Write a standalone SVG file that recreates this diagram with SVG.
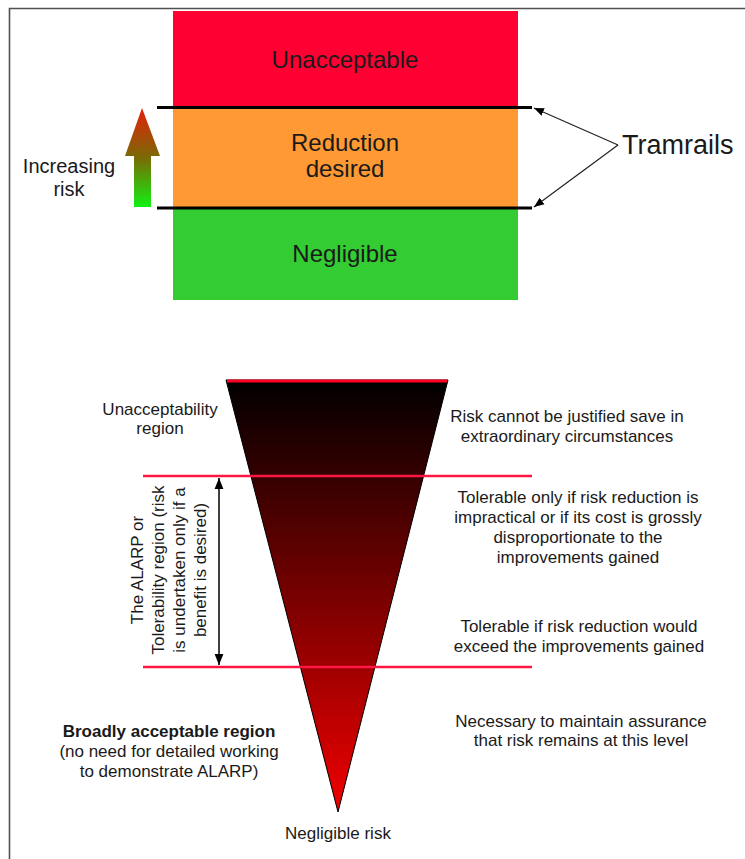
<svg xmlns="http://www.w3.org/2000/svg" width="745" height="859" viewBox="0 0 745 859">
<style>
text{font-family:"Liberation Sans",Arial,sans-serif;fill:#1a1a1a}
.big{font-size:24px;text-anchor:middle}
.mid{font-size:17px;text-anchor:middle}
.rail{stroke:#000;stroke-width:3;fill:none}
.pink{stroke:#ff1744;stroke-width:2.5;fill:none}
.thin{stroke:#222;stroke-width:1.2;fill:none}
</style>
<defs>
<linearGradient id="gArrow" x1="0" y1="0" x2="0" y2="1">
<stop offset="0" stop-color="#e5200a"/>
<stop offset="0.5" stop-color="#7a6a05"/>
<stop offset="1" stop-color="#12f012"/>
</linearGradient>
<linearGradient id="gTri" x1="0" y1="0" x2="0" y2="1">
<stop offset="0" stop-color="#000000"/>
<stop offset="1" stop-color="#f00000"/>
</linearGradient>
<marker id="ah" viewBox="0 0 10 10" refX="10" refY="5" markerWidth="10" markerHeight="10" markerUnits="userSpaceOnUse" orient="auto">
<path d="M0,1 L10,5 L0,9 Z" fill="#000"/>
</marker>
<marker id="ah2" viewBox="0 0 10 10" refX="10" refY="5" markerWidth="11" markerHeight="11" markerUnits="userSpaceOnUse" orient="auto-start-reverse">
<path d="M0,1 L10,5 L0,9 Z" fill="#000"/>
</marker>
</defs>
<rect width="745" height="859" fill="#fff"/>
<path d="M9.5,859 V8.5 H745" fill="none" stroke="#505050" stroke-width="1.6"/>

<g id="band-unacceptable">
<rect x="173" y="11" width="345" height="97" fill="#ff0033"/>
<text class="big" x="345" y="68">Unacceptable</text>
</g>
<g id="band-reduction">
<rect x="173" y="108" width="345" height="100" fill="#ff9933"/>
<text class="big" x="345" y="151">Reduction</text>
<text class="big" x="345" y="177">desired</text>
</g>
<g id="band-negligible">
<rect x="173" y="208" width="345" height="92" fill="#33cc33"/>
<text class="big" x="345" y="262">Negligible</text>
</g>

<g id="increasing-risk">
<path d="M142,108 L160,156 L151,156 L151,207 L134,207 L134,156 L125,156 Z" fill="url(#gArrow)"/>
<text x="69" y="173" style="font-size:20px;text-anchor:middle">Increasing</text>
<text x="69" y="196" style="font-size:20px;text-anchor:middle">risk</text>
</g>

<g id="tramrails">
<text x="622" y="154" style="font-size:27px">Tramrails</text>
</g>

<g id="triangle">
<path d="M226,380 L448,380 L338,812 Z" fill="url(#gTri)" stroke="#000" stroke-width="1"/>
<line x1="227" y1="381" x2="447" y2="381" stroke="#ff0022" stroke-width="3"/>
</g>

<g id="label-unacceptability">
<text class="mid" x="160" y="415">Unacceptability</text>
<text class="mid" x="160" y="434">region</text>
</g>
<g id="label-alarp">
<g transform="translate(0,570) rotate(-90)" style="font-size:17px">
<text x="0" y="143" text-anchor="middle">The ALARP or</text>
<text x="0" y="164" text-anchor="middle">Tolerability region (risk</text>
<text x="0" y="185" text-anchor="middle">is undertaken only if a</text>
<text x="0" y="206" text-anchor="middle">benefit is desired)</text>
</g>
</g>
<g id="label-broadly">
<text class="mid" x="169" y="737" style="font-weight:bold">Broadly acceptable region</text>
<text class="mid" x="169" y="757">(no need for detailed working</text>
<text class="mid" x="169" y="777">to demonstrate ALARP)</text>
</g>
<g id="label-negligible-risk">
<text class="mid" x="338" y="839">Negligible risk</text>
</g>
<g id="desc-1">
<text class="mid" x="567" y="422">Risk cannot be justified save in</text>
<text class="mid" x="567" y="442">extraordinary circumstances</text>
</g>
<g id="desc-2">
<text class="mid" x="578" y="503">Tolerable only if risk reduction is</text>
<text class="mid" x="578" y="523">impractical or if its cost is grossly</text>
<text class="mid" x="578" y="543">disproportionate to the</text>
<text class="mid" x="578" y="563">improvements gained</text>
</g>
<g id="desc-3">
<text class="mid" x="579" y="632">Tolerable if risk reduction would</text>
<text class="mid" x="579" y="652">exceed the improvements gained</text>
</g>
<g id="desc-4">
<text class="mid" x="581" y="727">Necessary to maintain assurance</text>
<text class="mid" x="581" y="746">that risk remains at this level</text>
</g>

<g id="connectors">
<line class="rail" x1="157" y1="107.5" x2="532" y2="107.5"/>
<line class="rail" x1="157" y1="208" x2="532" y2="208"/>
<line class="thin" x1="618" y1="145" x2="534" y2="108" marker-end="url(#ah)"/>
<line class="thin" x1="618" y1="145" x2="534" y2="207" marker-end="url(#ah)"/>
<line class="pink" x1="143" y1="476" x2="532" y2="476"/>
<line class="pink" x1="143" y1="667" x2="532" y2="667"/>
<line x1="219" y1="478" x2="219" y2="665" stroke="#000" stroke-width="1.5" marker-start="url(#ah2)" marker-end="url(#ah2)"/>
</g>
</svg>
